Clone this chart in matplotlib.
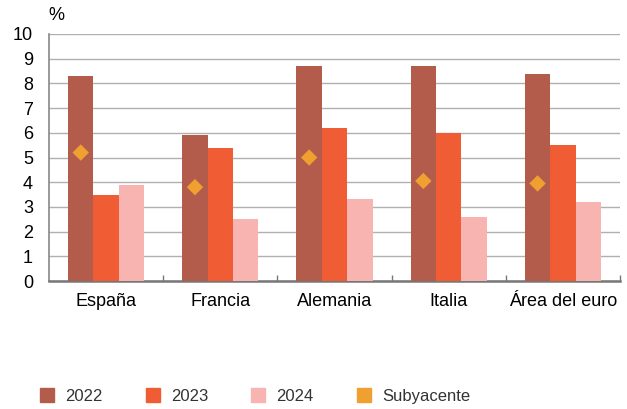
import matplotlib.pyplot as plt
import numpy as np
from matplotlib.patches import Patch

plt.rcParams['font.family'] = ['Liberation Sans', 'DejaVu Sans']

categories = ['España', 'Francia', 'Alemania', 'Italia', 'Área del euro']
v2022 = [8.3, 5.9, 8.7, 8.7, 8.4]
v2023 = [3.5, 5.4, 6.2, 6.0, 5.5]
v2024 = [3.9, 2.5, 3.3, 2.6, 3.2]
subyacente = [5.2, 3.8, 5.0, 4.05, 3.95]

c2022 = '#B35C4C'
c2023 = '#F05D35'
c2024 = '#F8B4B0'
csub = '#F0A030'

fig = plt.figure(figsize=(6.27, 4.09), dpi=100)
ax = fig.add_axes([49 / 627, 1 - 281 / 409, (620 - 49) / 627, (281 - 34) / 409])

x = np.arange(len(categories))
w = 0.222
ax.bar(x - w, v2022, w, color=c2022, label='2022', zorder=3)
ax.bar(x, v2023, w, color=c2023, label='2023', zorder=3)
ax.bar(x + w, v2024, w, color=c2024, label='2024', zorder=3)
ax.scatter(x - w, subyacente, marker='D', s=70, color=csub, zorder=4,
           label='Subyacente', edgecolors='none')

ax.set_xlim(-0.5, len(categories) - 0.5)
ax.set_ylim(0, 10)
ax.set_yticks(range(0, 11))
ax.yaxis.grid(True, color='#B0B0B0', linewidth=1.0, zorder=0)
ax.tick_params(axis='y', length=0, pad=11.5, labelsize=13)

# category separators as small ticks on the bottom axis
ax.set_xticks(x)
ax.set_xticklabels(categories)
ax.tick_params(axis='x', length=0, pad=9, labelsize=13)
ax.set_xticks(np.arange(0.5, len(categories), 1.0), minor=True)
ax.tick_params(axis='x', which='minor', direction='in', length=4, width=1, color='#777777')

for s in ['top', 'right']:
    ax.spines[s].set_visible(False)
ax.spines['left'].set_color('#888888')
ax.spines['bottom'].set_color('#777777')
ax.spines['left'].set_linewidth(1.2)
ax.spines['bottom'].set_linewidth(1.8)

fig.text(48 / 627, 1 - 16 / 409, '%', fontsize=13, ha='left', va='center')

handles = [Patch(color=c2022, label='2022'), Patch(color=c2023, label='2023'),
           Patch(color=c2024, label='2024'), Patch(color=csub, label='Subyacente')]
fig.legend(handles=handles, loc='center left', bbox_to_anchor=(25 / 627, 1 - 396 / 409),
           ncol=4, frameon=False, fontsize=12, handlelength=0.84, handleheight=0.84,
           columnspacing=2.6, handletextpad=0.66, labelcolor='#333333')

fig.savefig('out.png', dpi=100)
